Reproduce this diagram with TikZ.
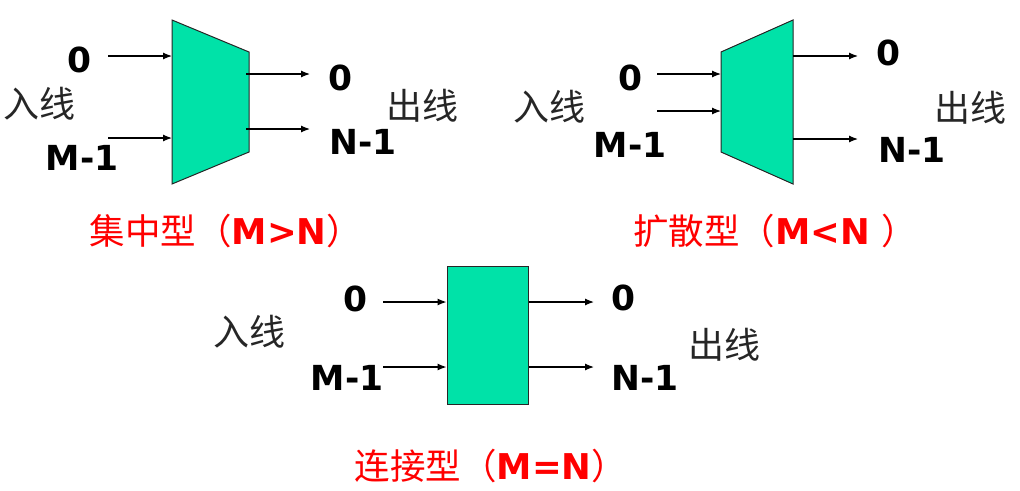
\documentclass[tikz,border=0pt]{standalone}
\usepackage{fontspec}
\setmainfont{DejaVu Sans}
\newfontfamily\cjk{Noto Sans CJK SC}
\usetikzlibrary{arrows.meta}
\definecolor{boxgreen}{RGB}{0,226,168}
\definecolor{capred}{RGB}{255,0,0}
\tikzset{
  blk/.style={draw=black!85, line width=1pt, fill=boxgreen},
  conn/.style={-{Latex[length=9pt,width=7pt]}, line width=1.2pt},
  num/.style={font=\fontsize{34.5}{38}\selectfont\bfseries, inner sep=0pt},
  zh/.style={font=\fontsize{36}{40}\selectfont\cjk, inner sep=0pt, text=black!85},
  captext/.style={font=\fontsize{35.5}{40}\selectfont, inner sep=0pt, text=capred}
}
\begin{document}
\begin{tikzpicture}[x=1pt,y=-1pt]
\useasboundingbox (0,0) rectangle (1020,490);

% ---------- concentrator ----------
\coordinate (a1) at (172,20);
\coordinate (a2) at (249,52);
\coordinate (a3) at (249,152);
\coordinate (a4) at (172,184);
\draw[blk] (a1) -- (a2) -- (a3) -- (a4) -- cycle;
\coordinate (ai0s) at (108,56);  \coordinate (ai0e) at (172,56);
\coordinate (ai1s) at (108,138); \coordinate (ai1e) at (172,138);
\coordinate (ao0s) at (246,74);  \coordinate (ao0e) at (310,74);
\coordinate (ao1s) at (246,129); \coordinate (ao1e) at (310,129);
\draw[conn] (ai0s) -- (ai0e);
\draw[conn] (ai1s) -- (ai1e);
\draw[conn] (ao0s) -- (ao0e);
\draw[conn] (ao1s) -- (ao1e);
\node[num] (al0) at (80,60) {0};
\node[num] (alm) at (82,158) {M-1};
\node[zh] (alin) at (40,104) {入线};
\node[num] (alo0) at (340,78) {0};
\node[num] (alon) at (363,142) {N-1};
\node[zh] (alout) at (422,106) {出线};
\node[captext] (acap) at (226,231) {{\cjk 集中型（}\textbf{M>N}{\cjk ）}};

% ---------- expander ----------
\coordinate (b1) at (721,52);
\coordinate (b2) at (793,20);
\coordinate (b3) at (793,184);
\coordinate (b4) at (721,152);
\draw[blk] (b1) -- (b2) -- (b3) -- (b4) -- cycle;
\coordinate (bi0s) at (657,74);  \coordinate (bi0e) at (721,74);
\coordinate (bi1s) at (657,111); \coordinate (bi1e) at (721,111);
\coordinate (bo0s) at (793,56);  \coordinate (bo0e) at (858,56);
\coordinate (bo1s) at (793,139); \coordinate (bo1e) at (858,139);
\draw[conn] (bi0s) -- (bi0e);
\draw[conn] (bi1s) -- (bi1e);
\draw[conn] (bo0s) -- (bo0e);
\draw[conn] (bo1s) -- (bo1e);
\node[num] (bl0) at (630,78) {0};
\node[num] (blm) at (630,145) {M-1};
\node[zh] (blin) at (549,107) {入线};
\node[num] (blo0) at (888,53) {0};
\node[num] (blon) at (912,150) {N-1};
\node[zh] (blout) at (970,108) {出线};
\node[captext] (bcap) at (775,231) {{\cjk 扩散型（}\textbf{M<N}\ {\cjk ）}};

% ---------- connector ----------
\node[blk, minimum width=81pt, minimum height=138pt, inner sep=0pt] (c) at (487.5,335) {};
\coordinate (ci0s) at (383,302); \coordinate (ci1s) at (383,367);
\coordinate (co0e) at (594,302); \coordinate (co1e) at (594,367);
\draw[conn] (ci0s) -- (ci0s -| c.west);
\draw[conn] (ci1s) -- (ci1s -| c.west);
\draw[conn] (co0e -| c.east) -- (co0e);
\draw[conn] (co1e -| c.east) -- (co1e);
\node[num] (cl0) at (355,299) {0};
\node[num] (clm) at (347,378) {M-1};
\node[zh] (clin) at (249,332) {入线};
\node[num] (clo0) at (623,298) {0};
\node[num] (clon) at (645,378) {N-1};
\node[zh] (clout) at (724,345) {出线};
\node[captext] (ccap) at (491,466) {{\cjk 连接型（}\textbf{M=N}{\cjk ）}};
\end{tikzpicture}
\end{document}
